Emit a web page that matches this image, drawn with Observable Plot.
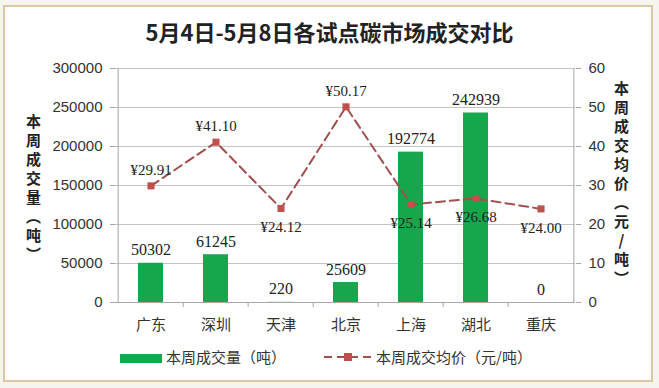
<!DOCTYPE html>
<html><head><meta charset="utf-8">
<script src="https://cdn.jsdelivr.net/npm/d3@7"></script>
<script src="https://cdn.jsdelivr.net/npm/@observablehq/plot@0.6"></script>
<style>
body{margin:0;background:#f6f4ef;}
#wrap{position:relative;width:659px;height:388px;overflow:hidden;}
#frame{position:absolute;left:3px;top:5px;width:646px;height:373px;border:2px solid #dcc9a3;background:#fff;}
#title{position:absolute;left:0;top:16px;width:659px;text-align:center;font:bold 22px "Noto Sans CJK SC";color:#222;line-height:30px;}
#chart{position:absolute;left:0;top:50px;}
.vt{position:absolute;writing-mode:vertical-rl;text-orientation:upright;font:bold 15px "Noto Sans CJK SC";color:#222;letter-spacing:4px;line-height:16px;}
.leg{position:absolute;font:15px "Noto Sans CJK SC";color:#333;line-height:18px;}
</style></head>
<body>
<div id="wrap">
  <div id="frame"></div>
  <div id="title">5月4日-5月8日各试点碳市场成交对比</div>
  <div id="chart"></div>
  <div class="vt" style="left:25px;top:114px;">本周成交量（吨）</div>
  <div class="vt" style="left:613px;top:81px;">本周成交均价（元/吨）</div>
  <svg style="position:absolute;left:118px;top:352px" width="46" height="14"><rect x="2" y="2" width="42" height="9" fill="#16a64b"/></svg>
  <div class="leg" style="left:166px;top:348px;">本周成交量（吨）</div>
  <svg style="position:absolute;left:322px;top:350px" width="52" height="14"><line x1="2" y1="7" x2="50" y2="7" stroke="#a0504e" stroke-width="2" stroke-dasharray="8,5"/><rect x="22" y="3" width="8" height="8" fill="#c0504d"/></svg>
  <div class="leg" style="left:376px;top:348px;">本周成交均价（元/吨）</div>
</div>
<script>
const categories = ["广东","深圳","天津","北京","上海","湖北","重庆"];
const volumes = [50302, 61245, 220, 25609, 192774, 242939, 0];
const prices = [29.91, 41.10, 24.12, 50.17, 25.14, 26.68, 24.00];
const volumeTicks = [0, 50000, 100000, 150000, 200000, 250000, 300000];
const priceTicks = [0, 10, 20, 30, 40, 50, 60];
const priceLabelAbove = ["广东","深圳","北京"];

const ratio = 300000 / 60;
const data = categories.map((c, i) => ({city: c, vol: volumes[i], price: prices[i], py: prices[i] * ratio}));
const W = 659, H = 300, mL = 115, mR = 84, mT = 18, mB = 48;
const bw = (W - mL - mR) / categories.length;
const axisColor = "#a6a6a6";
const cjk = "'Noto Sans CJK SC', sans-serif";

const chart = Plot.plot({
  width: W, height: H,
  marginLeft: mL, marginRight: mR, marginTop: mT, marginBottom: mB,
  x: {type: "band", domain: categories, padding: 0},
  y: {domain: [0, 300000]},
  style: {fontFamily: "'Liberation Sans', sans-serif", fontSize: "15px", color: "#333", background: "transparent", overflow: "visible"},
  marks: [
    Plot.gridY(volumeTicks, {stroke: "#c4c4c4", strokeOpacity: 1}),
    Plot.axisY(volumeTicks, {anchor: "left", tickSize: 5, tickPadding: 8, label: null, stroke: axisColor, fontSize: 15, tickFormat: d => String(d)}),
    Plot.axisY(priceTicks.map(v => v * ratio), {anchor: "right", tickSize: 5, tickPadding: 8, label: null, stroke: axisColor, fontSize: 15, tickFormat: d => String(d / ratio)}),
    Plot.axisX({tickSize: 0, tickPadding: 17, label: null, fontSize: 15, fontFamily: cjk}),
    Plot.ruleX([categories[0]], {dx: -bw / 2, stroke: axisColor}),
    Plot.ruleX([categories[categories.length - 1]], {dx: bw / 2, stroke: axisColor}),
    Plot.ruleX(categories.slice(1), {dx: -bw / 2, y1: 0, y2: 0, insetBottom: -5, stroke: axisColor}),
    Plot.ruleY([0], {stroke: axisColor}),
    Plot.barY(data, {x: "city", y: "vol", fill: "#16a64b", insetLeft: 20, insetRight: 20}),
    Plot.text(data, {x: "city", y: "vol", text: d => String(d.vol), dy: -13, fontFamily: "'Liberation Serif', serif", fontSize: 16, fill: "#222"}),
    Plot.line(data, {x: "city", y: "py", stroke: "#a0504e", strokeWidth: 2, strokeDasharray: "9,5"}),
    Plot.dot(data, {x: "city", y: "py", symbol: "square", r: 4, fill: "#c0504d", stroke: "none"}),
    Plot.text(data.filter(d => priceLabelAbove.includes(d.city)), {x: "city", y: "py", text: d => "¥" + d.price.toFixed(2), dy: -16, fontFamily: "'Liberation Serif', serif", fontSize: 15, fill: "#222"}),
    Plot.text(data.filter(d => !priceLabelAbove.includes(d.city)), {x: "city", y: "py", text: d => "¥" + d.price.toFixed(2), dy: 19, fontFamily: "'Liberation Serif', serif", fontSize: 15, fill: "#222"})
  ]
});
document.getElementById("chart").appendChild(chart);
</script>
</body></html>
